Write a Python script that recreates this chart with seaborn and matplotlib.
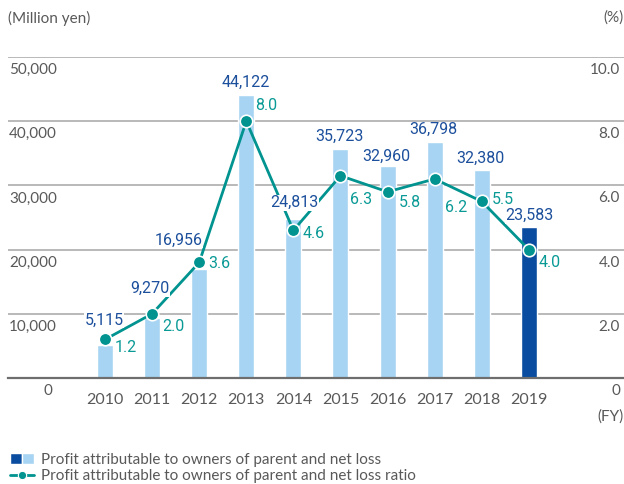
import matplotlib
matplotlib.use("Agg")
import matplotlib.pyplot as plt
import numpy as np
import pandas as pd
import seaborn as sns
from matplotlib.legend_handler import HandlerTuple
from matplotlib.lines import Line2D
from matplotlib.patches import Patch

YEARS = ["2010", "2011", "2012", "2013", "2014", "2015", "2016", "2017", "2018", "2019"]
PROFIT = [5115, 9270, 16956, 44122, 24813, 35723, 32960, 36798, 32380, 23583]
RATIO = [1.2, 2.0, 3.6, 8.0, 4.6, 6.3, 5.8, 6.2, 5.5, 4.0]
LEFT_TICKS = [0, 10000, 20000, 30000, 40000, 50000]
RIGHT_TICKS = [0.0, 2.0, 4.0, 6.0, 8.0, 10.0]

# label nudges in pixels (dx, dy), tuned by eye against the reference
BAR_LABEL_OFFSETS = [(-1, 25), (-2, 30), (-21, 29), (-1, 12), (1, 16),
                     (-1, 12), (-1, 10), (-1, 12), (-1, 12), (1, 11)]
RATIO_LABEL_OFFSETS = [(21, -8), (21, -13), (20, -1), (20, 16), (20, -3),
                       (21, -24), (22, -11), (21, -29), (21, 2), (21, -13)]

LIGHT = "#a6d4f2"
DARK = "#0a4c9f"
TEAL = "#00938f"
BAR_TXT = "#1c4f9c"
RATIO_TXT = "#0a9a96"
GRAY = "#595959"
GRID = "#b3b3b3"

sns.set_theme(style="white")
plt.rcParams["font.family"] = ["Lato", "DejaVu Sans"]
VALUE_FONT = ["Roboto", "DejaVu Sans"]

W, H = 624, 484
fig = plt.figure(figsize=(W / 100, H / 100), dpi=100)
ax = fig.add_axes([8 / W, 1 - 378 / H, 616 / W, (378 - 57) / H])

df = pd.DataFrame({"year": YEARS, "profit": PROFIT, "ratio": RATIO})
colors = {y: LIGHT for y in YEARS}
colors[YEARS[-1]] = DARK
sns.barplot(data=df, x="year", y="profit", hue="year", palette=colors,
            legend=False, width=0.34, saturation=1, ax=ax)

ax.set_ylim(0, 50000)
ax.set_xlim(-2.06, 11.02)
ax.set_yticks(LEFT_TICKS)
ax.set_yticklabels([])
ax.tick_params(axis="both", length=0)
ax.set_xticklabels([])
ax.set_xlabel("")
ax.set_ylabel("")
ax.yaxis.grid(True, color=GRID, linewidth=1.3)
ax.set_axisbelow(True)
for side in ["left", "right", "top"]:
    ax.spines[side].set_visible(False)
ax.spines["bottom"].set_color("#6e6e6e")
ax.spines["bottom"].set_linewidth(1.6)

ax2 = ax.twinx()
ax2.set_ylim(0, 10)
sns.lineplot(x=np.arange(len(YEARS)), y=RATIO, color=TEAL, linewidth=2.0,
             marker="o", markersize=9, markeredgecolor="white",
             markeredgewidth=1.2, ax=ax2)
ax2.set_yticks([])
for side in ["left", "right", "top", "bottom"]:
    ax2.spines[side].set_visible(False)
ax2.set_xlim(-2.06, 11.02)

box = dict(facecolor="white", edgecolor="none", pad=0.5)
for i, (val, r) in enumerate(zip(PROFIT, RATIO)):
    dx, dy = BAR_LABEL_OFFSETS[i]
    ax2.annotate(f"{val:,}", (i, val / 5000), xytext=(dx, dy),
                 textcoords="offset pixels", ha="center", va="center",
                 fontsize=11.5, color=BAR_TXT,
                 family=VALUE_FONT, bbox=box, zorder=10)
    dx, dy = RATIO_LABEL_OFFSETS[i]
    ax2.annotate(f"{r:.1f}", (i, r), xytext=(dx, dy),
                 textcoords="offset pixels", ha="center", va="center",
                 fontsize=11.5, color=RATIO_TXT,
                 family=VALUE_FONT, bbox=box, zorder=10)

# axis value labels sit just under each gridline
ytf = ax.get_yaxis_transform()
for t in LEFT_TICKS:
    x = 44 / 616 if t == 0 else 49 / 616
    ax.annotate(f"{t:,}", (x, t), xycoords=ytf, xytext=(0, -6),
                textcoords="offset pixels", ha="right", va="top",
                fontsize=11, color=GRAY)
ytf2 = ax2.get_yaxis_transform()
for t in RIGHT_TICKS:
    lab = "0" if t == 0 else f"{t:.1f}"
    ax2.annotate(lab, (1.0, t), xycoords=ytf2, xytext=(-4, -6),
                 textcoords="offset pixels", ha="right", va="top",
                 fontsize=11, color=GRAY)

xtf = ax.get_xaxis_transform()
for i, y in enumerate(YEARS):
    ax.annotate(y, (i, 0), xycoords=xtf, xytext=(0, -15),
                textcoords="offset pixels", ha="center", va="top",
                fontsize=11.5, color=GRAY)

fig.text(8 / W, 1 - 18 / H, "(Million yen)", ha="left", va="center",
         fontsize=11, color=GRAY)
fig.text(1.0, 1 - 18 / H, "(%)", ha="right", va="center",
         fontsize=11, color=GRAY)
fig.text(1.0, 1 - 417 / H, "(FY)", ha="right", va="center",
         fontsize=11, color=GRAY)

handles = [
    (Patch(facecolor=DARK), Patch(facecolor=LIGHT)),
    Line2D([], [], color=TEAL, linewidth=2, marker="o", markersize=6,
           markeredgecolor="white", markeredgewidth=0.8),
]
labels = ["Profit attributable to owners of parent and net loss",
          "Profit attributable to owners of parent and net loss ratio"]
fig.legend(handles, labels, loc="upper left",
           bbox_to_anchor=(2 / W, 1 - 445 / H), frameon=False,
           fontsize=11, labelcolor=GRAY, handlelength=1.6,
           handletextpad=0.45, labelspacing=0.15, borderpad=0,
           handler_map={tuple: HandlerTuple(ndivide=None, pad=0)})

fig.savefig("out.png", dpi=100)
